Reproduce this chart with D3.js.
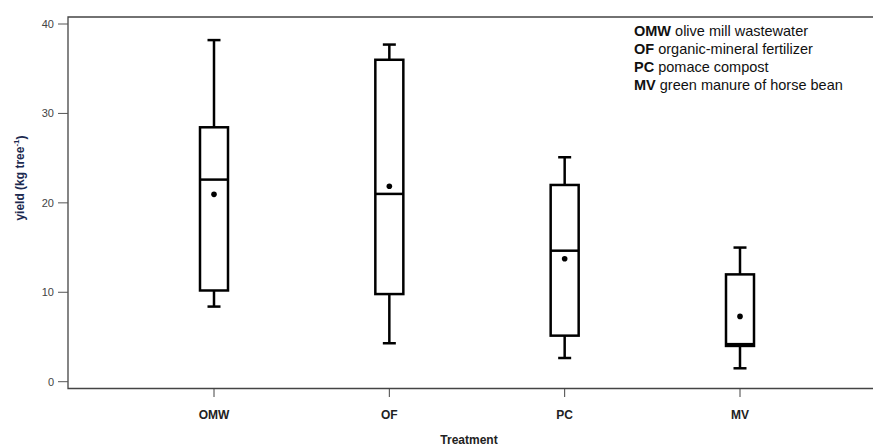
<!DOCTYPE html>
<html>
<head>
<meta charset="utf-8">
<script src="https://cdn.jsdelivr.net/npm/d3@7"></script>
<style>
	body { margin: 0; background: #fff; }
	svg { font-family: Arial, "Liberation Sans", sans-serif; }
</style>
</head>
<body>
<svg id="chart"></svg>
<script>
// Data.
var treatments = ["OMW", "OF", "PC", "MV"];
var whiskerLow = [8.4, 4.3, 2.65, 1.5];
var q1 = [10.2, 9.8, 5.15, 4.0];
var medians = [22.6, 21.0, 14.65, 4.2];
var q3 = [28.45, 36.0, 22.0, 12.0];
var whiskerHigh = [38.2, 37.7, 25.1, 15.0];
var means = [20.95, 21.85, 13.75, 7.3];
var yTicks = [0, 10, 20, 30, 40];
var legendKeys = ["OMW", "OF", "PC", "MV"];
var legendText = ["olive mill wastewater", "organic-mineral fertilizer", "pomace compost", "green manure of horse bean"];

var width = 873, height = 446;
var svg = d3.select("#chart").attr("width", width).attr("height", height);

// Plot frame.
var frameLeft = 68, frameTop = 17, frameBottom = 388.5, frameRight = 873;

var x = d3.scalePoint().domain(treatments).range([214, 740]);
var y = d3.scaleLinear().domain([0, 40]).range([381.7, 24]);

// Frame lines: top, left, bottom.
svg.append("path")
	.attr("d", "M" + frameRight + "," + frameTop + "H" + frameLeft + "V" + frameBottom + "H" + frameRight)
	.attr("fill", "none")
	.attr("stroke", "#444")
	.attr("stroke-width", 1.3);

// Y axis ticks.
var yAxis = svg.append("g");
yAxis.selectAll("line").data(yTicks).enter().append("line")
	.attr("x1", 58).attr("x2", frameLeft)
	.attr("y1", function(d) { return y(d); })
	.attr("y2", function(d) { return y(d); })
	.attr("stroke", "#555").attr("stroke-width", 1);
yAxis.selectAll("text").data(yTicks).enter().append("text")
	.attr("x", 54)
	.attr("y", function(d) { return y(d); })
	.attr("dy", "0.35em")
	.attr("text-anchor", "end")
	.attr("font-size", 11)
	.attr("fill", "#444")
	.text(function(d) { return d; });

// X axis ticks.
var xAxis = svg.append("g");
xAxis.selectAll("line").data(treatments).enter().append("line")
	.attr("x1", function(d) { return x(d); })
	.attr("x2", function(d) { return x(d); })
	.attr("y1", frameBottom).attr("y2", 397)
	.attr("stroke", "#444").attr("stroke-width", 1);
xAxis.selectAll("text").data(treatments).enter().append("text")
	.attr("x", function(d) { return x(d); })
	.attr("y", 415)
	.attr("dy", "0.35em")
	.attr("text-anchor", "middle")
	.attr("font-size", 12)
	.attr("font-weight", "bold")
	.attr("fill", "#222")
	.text(function(d) { return d; });

// Axis titles.
svg.append("text")
	.attr("x", 469).attr("y", 440).attr("dy", "0.35em")
	.attr("text-anchor", "middle")
	.attr("font-size", 12).attr("font-weight", "bold").attr("fill", "#222")
	.text("Treatment");

var yTitle = svg.append("text")
	.attr("transform", "translate(20,178) rotate(-90)")
	.attr("dy", "0.35em")
	.attr("text-anchor", "middle")
	.attr("font-size", 12).attr("font-weight", "bold").attr("fill", "#1c2a50");
yTitle.append("tspan").text("yield (kg tree");
yTitle.append("tspan").attr("font-size", 8).attr("dy", "-0.7em").text("-1");
yTitle.append("tspan").attr("dy", "0.55em").text(")");

// Boxes.
var boxWidth = 28, capWidth = 13;
var boxData = treatments.map(function(t, i) {
	return { name: t, lo: whiskerLow[i], q1: q1[i], med: medians[i], q3: q3[i], hi: whiskerHigh[i], mean: means[i] };
});
var boxes = svg.selectAll(".box").data(boxData).enter().append("g").classed("box", true);

// Whiskers.
boxes.append("line")
	.attr("x1", function(d) { return x(d.name); }).attr("x2", function(d) { return x(d.name); })
	.attr("y1", function(d) { return y(d.hi); }).attr("y2", function(d) { return y(d.q3); })
	.attr("stroke", "#000").attr("stroke-width", 2.5);
boxes.append("line")
	.attr("x1", function(d) { return x(d.name); }).attr("x2", function(d) { return x(d.name); })
	.attr("y1", function(d) { return y(d.q1); }).attr("y2", function(d) { return y(d.lo); })
	.attr("stroke", "#000").attr("stroke-width", 2.5);
// Caps.
["hi", "lo"].forEach(function(k) {
	boxes.append("line")
		.attr("x1", function(d) { return x(d.name) - capWidth / 2; })
		.attr("x2", function(d) { return x(d.name) + capWidth / 2; })
		.attr("y1", function(d) { return y(d[k]); }).attr("y2", function(d) { return y(d[k]); })
		.attr("stroke", "#000").attr("stroke-width", 2.5);
});
// Box.
boxes.append("rect")
	.attr("x", function(d) { return x(d.name) - boxWidth / 2; })
	.attr("width", boxWidth)
	.attr("y", function(d) { return y(d.q3); })
	.attr("height", function(d) { return y(d.q1) - y(d.q3); })
	.attr("fill", "#fff").attr("stroke", "#000").attr("stroke-width", 2.5);
// Median.
boxes.append("line")
	.attr("x1", function(d) { return x(d.name) - boxWidth / 2; })
	.attr("x2", function(d) { return x(d.name) + boxWidth / 2; })
	.attr("y1", function(d) { return y(d.med); }).attr("y2", function(d) { return y(d.med); })
	.attr("stroke", "#000").attr("stroke-width", 2.5);
// Mean dot.
boxes.append("circle")
	.attr("cx", function(d) { return x(d.name); })
	.attr("cy", function(d) { return y(d.mean); })
	.attr("r", 2.8).attr("fill", "#000");

// Legend text.
var legend = svg.selectAll(".legend").data(legendKeys).enter().append("text")
	.classed("legend", true)
	.attr("x", 634)
	.attr("y", function(d, i) { return 31 + i * 18; })
	.attr("dy", "0.35em")
	.attr("font-size", 14.5)
	.attr("fill", "#111");
legend.append("tspan").attr("font-weight", "bold").text(function(d) { return d; });
legend.append("tspan").text(function(d, i) { return " " + legendText[i]; });
</script>
</body>
</html>
